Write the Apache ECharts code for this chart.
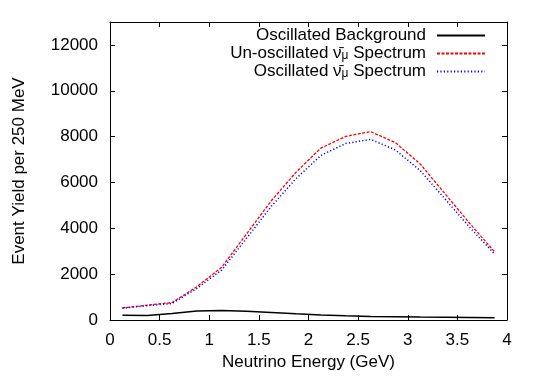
<!DOCTYPE html>
<html>
<head>
<meta charset="utf-8">
<script src="https://cdn.jsdelivr.net/npm/echarts@6/dist/echarts.min.js"></script>
<style>
html,body{margin:0;padding:0;background:#fff;}
#chart{width:540px;height:378px;}
</style>
</head>
<body>
<div id="chart"></div>
<script>
// Bin centres (GeV), 250 MeV bins
const energy = [0.125, 0.375, 0.625, 0.875, 1.125, 1.375, 1.625, 1.875, 2.125, 2.375, 2.625, 2.875, 3.125, 3.375, 3.625, 3.875];
const background = [210, 200, 280, 395, 410, 380, 330, 270, 220, 185, 155, 140, 128, 118, 108, 100];
const unoscillated = [530, 650, 760, 1450, 2300, 3750, 5200, 6450, 7500, 8010, 8220, 7740, 6810, 5510, 4210, 2980];
const oscillated = [510, 625, 720, 1380, 2180, 3560, 4960, 6170, 7180, 7700, 7880, 7420, 6520, 5280, 4040, 2880];

const seriesNames = ['Oscillated Background', 'Un-oscillated \u03BD\u0304\u03BC Spectrum', 'Oscillated \u03BD\u0304\u03BC Spectrum'];
const legendLabels = ['Oscillated Background', 'Un-oscillated \u03BD\u0304{sub|\u03BC} Spectrum', 'Oscillated \u03BD\u0304{sub|\u03BC} Spectrum'];
const xTicks = {min: 0, max: 4, interval: 0.5};
const yTicks = {min: 0, max: 13000, interval: 2000};

const pairs = arr => arr.map((v, i) => [energy[i], v]);
const FONT = 'Liberation Sans';

const chart = echarts.init(document.getElementById('chart'), null, {renderer: 'canvas'});

const axisLine = {show: true, onZero: false, lineStyle: {color: '#000', width: 1}};
const axisTick = {show: true, inside: true, length: 5, lineStyle: {color: '#000', width: 1}};
const labelStyle = {color: '#000', fontFamily: FONT, fontSize: 17};

function legendFor(i, top) {
  return {
    data: [seriesNames[i]],
    right: 54,
    top: top,
    padding: 0,
    align: 'right',
    itemWidth: 48,
    itemHeight: 14,
    selectedMode: false,
    itemStyle: {opacity: 0},
    formatter: () => legendLabels[i],
    textStyle: {
      color: '#000', fontFamily: FONT, fontSize: 17, padding: [0, 6, 0, 0],
      rich: {sub: {fontFamily: FONT, fontSize: 12, verticalAlign: 'bottom', lineHeight: 10, color: '#000'}}
    }
  };
}

chart.setOption({
  animation: false,
  backgroundColor: '#fff',
  grid: {left: 110, right: 33, top: 22, bottom: 58, containLabel: false},
  legend: [legendFor(0, 27), legendFor(1, 45), legendFor(2, 63)],
  xAxis: [
    {type: 'value', min: xTicks.min, max: xTicks.max, interval: xTicks.interval, position: 'bottom',
     name: 'Neutrino Energy (GeV)', nameLocation: 'middle', nameGap: 34,
     nameTextStyle: labelStyle,
     axisLine: axisLine, axisTick: axisTick, splitLine: {show: false},
     axisLabel: Object.assign({margin: 12, formatter: v => String(v)}, labelStyle)},
    {type: 'value', min: xTicks.min, max: xTicks.max, interval: xTicks.interval, position: 'top',
     axisLine: axisLine, axisTick: axisTick, splitLine: {show: false}, axisLabel: {show: false}}
  ],
  yAxis: [
    {type: 'value', min: yTicks.min, max: yTicks.max, interval: yTicks.interval, position: 'left',
     name: 'Event Yield per 250 MeV', nameLocation: 'middle', nameGap: 82,
     nameTextStyle: labelStyle,
     axisLine: axisLine, axisTick: axisTick, splitLine: {show: false},
     axisLabel: Object.assign({margin: 12, showMaxLabel: false, formatter: v => String(v)}, labelStyle)},
    {type: 'value', min: yTicks.min, max: yTicks.max, interval: yTicks.interval, position: 'right',
     axisLine: axisLine, axisTick: axisTick, splitLine: {show: false}, axisLabel: {show: false}}
  ],
  series: [
    {name: seriesNames[0], type: 'line', xAxisIndex: 0, yAxisIndex: 0, data: pairs(background),
     symbol: 'none', color: '#000', lineStyle: {color: '#000', width: 1.5, type: 'solid'}},
    {name: seriesNames[1], type: 'line', xAxisIndex: 0, yAxisIndex: 0, data: pairs(unoscillated),
     symbol: 'none', color: '#ff0000', lineStyle: {color: '#ff0000', width: 1.3, type: [3, 1.5]}},
    {name: seriesNames[2], type: 'line', xAxisIndex: 0, yAxisIndex: 0, data: pairs(oscillated),
     symbol: 'none', color: '#0000ff', lineStyle: {color: '#0000ff', width: 1.5, type: [1.2, 2.2]}}
  ]
});
</script>
</body>
</html>
